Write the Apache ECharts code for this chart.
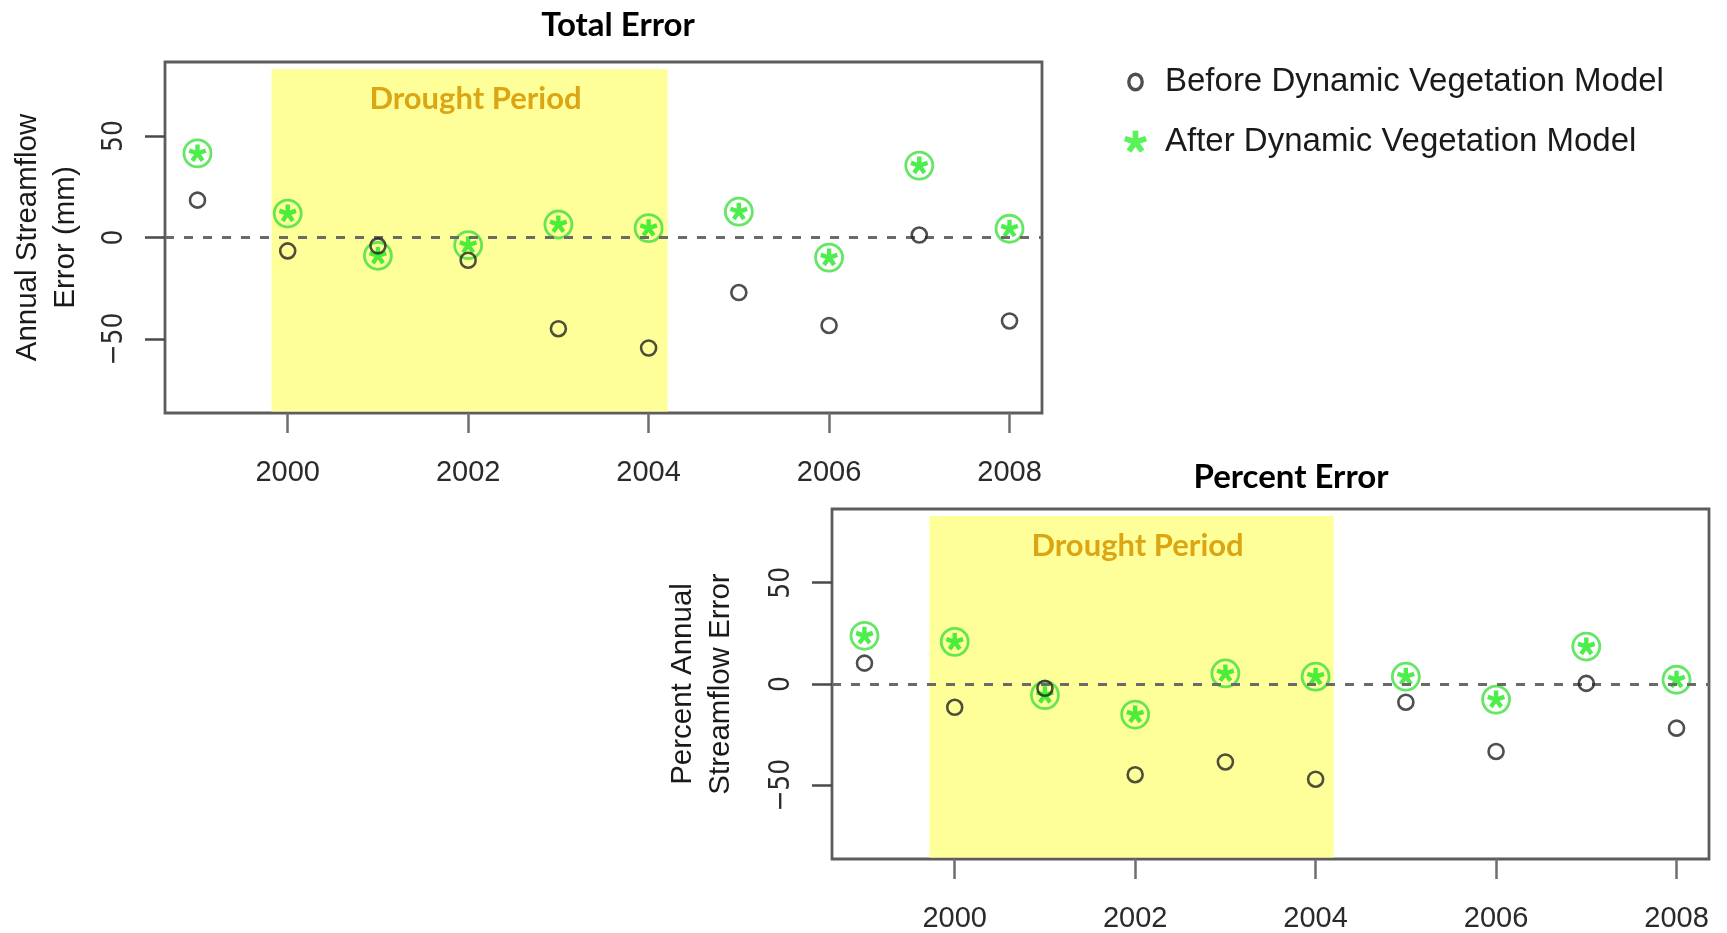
<!DOCTYPE html>
<html>
<head>
<meta charset="utf-8">
<title>Annual Streamflow Error</title>
<script src="https://cdn.jsdelivr.net/npm/echarts@6/dist/echarts.min.js"></script>
<style>
  html, body { margin: 0; padding: 0; background: #ffffff; }
  #chart { width: 1727px; height: 933px; }
</style>
</head>
<body>
<div id="chart"></div>
<script>
// Water years shown on both panels
const years = [1999, 2000, 2001, 2002, 2003, 2004, 2005, 2006, 2007, 2008];

// Total annual streamflow error (mm)
const totalBefore = [18.4, -6.6, -4.1, -11.2, -44.9, -54.4, -27.1, -43.3, 1.2, -41.1];
const totalAfter  = [41.4, 11.8, -9.0, -3.8, 6.4, 4.6, 12.7, -9.9, 35.4, 4.3];

// Percent annual streamflow error
const pctBefore = [10.3, -11.5, -2.1, -44.8, -38.5, -47.0, -9.0, -33.3, 0.3, -21.8];
const pctAfter  = [23.8, 20.8, -5.5, -15.1, 5.2, 3.6, 3.6, -7.7, 18.5, 2.1];

// Tick positions
const yearTicks = [2000, 2002, 2004, 2006, 2008];
const errorTicks = [-50, 0, 50];

// Drought shading extents [startYear, endYear, topValue]
const droughtTotal = [1999.82, 2004.21, 83];
const droughtPct   = [1999.72, 2004.20, 83];

const panelTitles = ['Total Error', 'Percent Error'];
const yNames = ['Annual Streamflow\nError (mm)', 'Percent Annual\nStreamflow Error'];
const seriesNames = ['Before Dynamic Vegetation Model', 'After Dynamic Vegetation Model'];
const droughtLabel = 'Drought Period';

// Axis extents (R-style 4% padding around ylim ±80 and the year range)
const xMin = 1998.64, xMax = 2008.36;
const yMin = -86.4, yMax = 86.4;

const pairs = (xs, ys) => xs.map((x, i) => [x, ys[i]]);

// Five-armed asterisk glyph as a filled path, padded to a square so it stays centred
function asteriskPath() {
  const L = 100, hw = 25;
  let d = 'M-100 -100 Z M100 100 Z ';
  for (let k = 0; k < 5; k++) {
    const a = (-90 + 72 * k) * Math.PI / 180;
    const dx = Math.cos(a), dy = Math.sin(a);
    const px = -dy, py = dx;
    const p1 = [hw * px, hw * py];
    const p2 = [p1[0] + L * dx, p1[1] + L * dy];
    const p3 = [p2[0] - 2 * hw * px, p2[1] - 2 * hw * py];
    const p4 = [-hw * px, -hw * py];
    d += 'M' + p1.map(v => v.toFixed(2)).join(' ') +
         ' L' + p2.map(v => v.toFixed(2)).join(' ') +
         ' L' + p3.map(v => v.toFixed(2)).join(' ') +
         ' L' + p4.map(v => v.toFixed(2)).join(' ') + ' Z ';
  }
  return 'path://' + d;
}

// Letter-like "o" ring for the legend, padded to the same square box
function ringPath() {
  const c = 110, rx = 80, ry = 90, ix = 48, iy = 58;
  return 'path://M0 0 Z M220 220 Z ' +
    `M${c + rx} ${c} A${rx} ${ry} 0 1 1 ${c - rx} ${c} A${rx} ${ry} 0 1 1 ${c + rx} ${c} Z ` +
    `M${c + ix} ${c} A${ix} ${iy} 0 1 0 ${c - ix} ${c} A${ix} ${iy} 0 1 0 ${c + ix} ${c} Z`;
}

const ASTERISK = asteriskPath();
const RING = ringPath();

const GREEN_RING = '#3fe03f';
const GREEN_STAR = '#1fe81f';
const DARK = '#222222';
const labelFont = '"Liberation Sans", Arial, sans-serif';
const titleFont = 'Lato, "Open Sans", sans-serif';

const grids = [
  { left: 165, top: 62, width: 877, height: 351 },
  { left: 832, top: 509, width: 877, height: 352 }
];

function xAxisFor(gi) {
  return {
    type: 'value', gridIndex: gi, min: xMin, max: xMax,
    axisLine: { show: false, onZero: false },
    splitLine: { show: false },
    axisTick: { show: true, customValues: yearTicks, length: 20, lineStyle: { color: '#6f6f6f', width: 2.5 } },
    axisLabel: {
      customValues: yearTicks, margin: 45, fontSize: 29, color: '#2a2a2a',
      fontFamily: labelFont, formatter: v => String(v)
    }
  };
}

function yAxisFor(gi, name, gap) {
  return {
    type: 'value', gridIndex: gi, min: yMin, max: yMax,
    axisLine: { show: false, onZero: false },
    splitLine: { show: false },
    axisTick: { show: true, customValues: errorTicks, length: 20, lineStyle: { color: '#4a4a4a', width: 2.5 } },
    axisLabel: {
      customValues: errorTicks, rotate: 90, margin: 36, fontSize: 28, color: '#2a2a2a',
      fontFamily: '"Liberation Sans Narrow", "DejaVu Sans Condensed", sans-serif',
      formatter: v => String(v).replace('-', '\u2212')
    },
    name: name, nameLocation: 'middle', nameRotate: 90, nameGap: gap,
    nameTextStyle: { fontSize: 29.5, lineHeight: 38, color: '#1a1a1a', fontFamily: labelFont, align: 'center' }
  };
}

function droughtArea(ext) {
  return {
    silent: true,
    itemStyle: { color: '#ffff99' },
    label: {
      show: true, position: 'insideTop', distance: 15, offset: [6, 0],
      color: '#dba514', fontSize: 31, fontWeight: 'bold', fontFamily: titleFont
    },
    data: [[
      { name: droughtLabel, xAxis: ext[0], yAxis: ext[2] },
      { xAxis: ext[1], yAxis: yMin + 0.7 }
    ]]
  };
}

const zeroLine = {
  silent: true, symbol: 'none', label: { show: false },
  lineStyle: { color: '#6a6a6a', width: 3, type: [9, 10] },
  data: [{ yAxis: 0 }]
};

function panelSeries(gi, before, after, ext) {
  return [
    {
      name: 'drought-' + gi, type: 'scatter', xAxisIndex: gi, yAxisIndex: gi,
      data: [], markArea: droughtArea(ext), markLine: zeroLine, z: 1
    },
    {
      name: 'after-ring-' + gi, type: 'scatter', xAxisIndex: gi, yAxisIndex: gi,
      data: pairs(years, after), symbol: 'circle', symbolSize: 27, z: 3,
      itemStyle: { color: 'rgba(0,0,0,0)', borderColor: GREEN_RING, borderWidth: 2.8 }
    },
    {
      name: seriesNames[1], type: 'scatter', xAxisIndex: gi, yAxisIndex: gi,
      data: pairs(years, after), symbol: ASTERISK, symbolSize: 18, z: 4,
      itemStyle: { color: GREEN_STAR }
    },
    {
      name: seriesNames[0], type: 'scatter', xAxisIndex: gi, yAxisIndex: gi,
      data: pairs(years, before), symbol: 'circle', symbolSize: 15, z: 5,
      itemStyle: { color: 'rgba(0,0,0,0)', borderColor: DARK, borderWidth: 2.6 }
    }
  ];
}

const chart = echarts.init(document.getElementById('chart'), null, { renderer: 'canvas' });

chart.setOption({
  backgroundColor: '#ffffff',
  animation: false,
  title: [
    { text: panelTitles[0], left: 613, top: 4, textAlign: 'center',
      textStyle: { fontSize: 33, fontWeight: 'bold', color: '#000', fontFamily: titleFont } },
    { text: panelTitles[1], left: 1286, top: 456, textAlign: 'center',
      textStyle: { fontSize: 33, fontWeight: 'bold', color: '#000', fontFamily: titleFont } }
  ],
  legend: {
    orient: 'vertical', left: 1119, top: 57,
    itemWidth: 23, itemHeight: 23, itemGap: 20,
    selectedMode: false,
    textStyle: { fontSize: 33, lineHeight: 40, color: '#1a1a1a', fontFamily: labelFont, padding: [0, 0, 0, 13] },
    data: [
      { name: seriesNames[0], icon: RING, itemStyle: { color: DARK, borderWidth: 0 } },
      { name: seriesNames[1], icon: ASTERISK, itemStyle: { color: '#2ef02e', borderWidth: 0 } }
    ]
  },
  grid: grids.map(g => Object.assign({ show: true, borderColor: '#5c5c5c', borderWidth: 2.8, backgroundColor: 'transparent', containLabel: false }, g)),
  xAxis: [xAxisFor(0), xAxisFor(1)],
  yAxis: [yAxisFor(0, yNames[0], 80), yAxisFor(1, yNames[1], 92)],
  series: [
    ...panelSeries(0, totalBefore, totalAfter, droughtTotal),
    ...panelSeries(1, pctBefore, pctAfter, droughtPct)
  ]
});
</script>
</body>
</html>
